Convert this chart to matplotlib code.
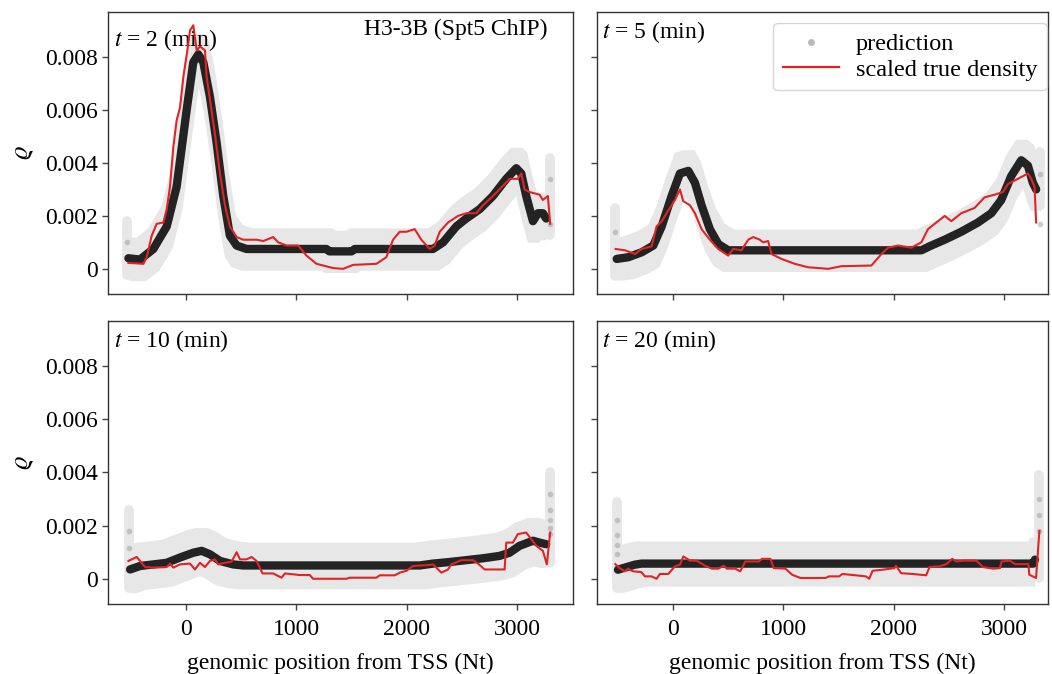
import matplotlib
matplotlib.use("Agg")
import matplotlib.pyplot as plt
import numpy as np
from matplotlib.lines import Line2D
from matplotlib.ticker import FuncFormatter

plt.rcParams["font.family"] = ["Liberation Serif", "DejaVu Serif"]
plt.rcParams["mathtext.fontset"] = "stix"

# ---- data (x in Nt from TSS, y = density) ----
TIMES = [2, 5, 10, 20]

PRED_X_T2 = [-522, -417, -296, -175, -85, 6, 66, 112, 157, 217, 278, 338, 398, 459, 549,
             1273, 1300, 1500, 1530, 2239, 2330, 2450, 2540, 2661, 2782, 2903, 2994, 3039,
             3084, 3145, 3190, 3235, 3265]
PRED_Y_T2 = [0.0004, 0.00035, 0.00075, 0.0016, 0.0031, 0.006, 0.0078, 0.0081, 0.0078, 0.0065,
             0.00475, 0.00275, 0.00125, 0.00088, 0.00075, 0.00075, 0.00066, 0.00066, 0.00075,
             0.00075, 0.001, 0.0016, 0.0019, 0.00225, 0.00275, 0.0034, 0.0038, 0.0036,
             0.00275, 0.0018, 0.0021, 0.0021, 0.0019]
TRUE_X_T2 = [-522, -386, -356, -311, -266, -205, -175, -145, -115, -85, -54, -24, 12, 36, 66,
             97, 127, 172, 187, 217, 262, 308, 353, 398, 459, 519, 640, 700, 790, 836, 911,
             1017, 1092, 1183, 1333, 1424, 1515, 1726, 1816, 1877, 1937, 1998, 2073, 2133,
             2209, 2254, 2300, 2375, 2466, 2541, 2631, 2692, 2782, 2842, 2933, 3008, 3039,
             3069, 3114, 3205, 3235, 3280, 3301]
TRUE_Y_T2 = [0.000225, 0.00019, 0.00044, 0.00125, 0.0017, 0.00175, 0.00225, 0.0031, 0.0046,
             0.0056, 0.0061, 0.00725, 0.00825, 0.009, 0.0092, 0.00825, 0.0084, 0.00825, 0.00725,
             0.0064, 0.0051, 0.0036, 0.0024, 0.0016, 0.0012, 0.0011, 0.0011, 0.00105, 0.0012,
             0.001, 0.00088, 0.00088, 0.0005, 0.00019, 0.00003, 0.0, 0.00015, 0.00019, 0.00044,
             0.0011, 0.0014, 0.0014, 0.0015, 0.0011, 0.00075, 0.00088, 0.0014, 0.00175, 0.002,
             0.0021, 0.0021, 0.0024, 0.00275, 0.003, 0.0034, 0.0034, 0.0036, 0.003, 0.0029,
             0.0028, 0.0026, 0.00275, 0.0017]

PRED_X_T5 = [-506, -400, -280, -175, -99, -9, 66, 142, 202, 262, 337, 413, 503, 2250, 2340,
             2461, 2611, 2762, 2883, 2973, 3063, 3154, 3214, 3259, 3289]
PRED_Y_T5 = [0.000375, 0.00044, 0.000625, 0.00088, 0.0016, 0.00275, 0.0036, 0.0037, 0.00325,
             0.0024, 0.0015, 0.00094, 0.0007, 0.0007, 0.00088, 0.0011, 0.0014, 0.00175, 0.0021,
             0.0026, 0.0035, 0.0041, 0.0039, 0.00325, 0.003]
TRUE_X_T5 = [-515, -431, -340, -280, -190, -145, -99, -54, 21, 66, 96, 157, 202, 262, 337, 413,
             503, 548, 623, 684, 729, 789, 819, 864, 895, 985, 1105, 1226, 1407, 1527, 1798,
             1889, 1949, 2039, 2160, 2250, 2310, 2401, 2461, 2521, 2611, 2732, 2822, 2912, 2988,
             3033, 3123, 3214, 3244, 3274, 3289]
TRUE_Y_T5 = [0.00075, 0.0007, 0.00056, 0.00075, 0.00085, 0.0016, 0.0018, 0.0021, 0.0026, 0.003,
             0.00256, 0.0024, 0.0021, 0.0015, 0.0011, 0.00075, 0.0005, 0.00075, 0.0007, 0.0011,
             0.0012, 0.0011, 0.001, 0.00105, 0.00056, 0.000375, 0.00019, 0.00006, 0.0, 0.0001,
             0.000125, 0.00056, 0.0008, 0.00088, 0.0008, 0.001, 0.0015, 0.0018, 0.002, 0.0018,
             0.0021, 0.0023, 0.0027, 0.0028, 0.0029, 0.0032, 0.0034, 0.0036, 0.0034, 0.0031,
             0.00175]

PRED_X_T10 = [-507, -416, -296, -175, -54, 66, 142, 217, 308, 428, 519, 2118, 2239, 2389, 2540,
              2691, 2842, 2933, 3024, 3145, 3205, 3265]
PRED_Y_T10 = [0.00035, 0.00048, 0.00054, 0.0006, 0.0008, 0.00098, 0.00105, 0.00092, 0.00067,
              0.00054, 0.0005, 0.0005, 0.00057, 0.00063, 0.0007, 0.00077, 0.00086, 0.00098,
              0.00124, 0.00143, 0.00136, 0.0013]
TRUE_X_T10 = [-522, -447, -371, -296, -175, -145, -115, -54, 36, 81, 127, 172, 217, 262, 293,
              353, 413, 459, 489, 549, 594, 640, 694, 790, 866, 896, 1032, 1122, 1152, 1454,
              1484, 1726, 1756, 1892, 1937, 1998, 2058, 2209, 2239, 2269, 2314, 2375, 2405,
              2496, 2601, 2647, 2707, 2888, 2903, 2963, 3008, 3084, 3175, 3235, 3271, 3301]
TRUE_Y_T10 = [0.00067, 0.00082, 0.00044, 0.00042, 0.00044, 0.00057, 0.00042, 0.00054, 0.00057,
              0.00035, 0.0006, 0.00044, 0.00067, 0.00073, 0.00054, 0.0006, 0.00064, 0.001,
              0.00073, 0.00073, 0.00082, 0.00067, 0.0002, 0.0002, 0.00004, 0.0002, 0.00014,
              0.00014, 0.0, 0.0, 0.00004, 0.00004, 0.00013, 0.00013, 0.00023, 0.0003, 0.00048,
              0.00052, 0.00054, 0.00042, 0.00023, 0.00035, 0.00054, 0.0007, 0.0007, 0.00057,
              0.00035, 0.00035, 0.00136, 0.00136, 0.00168, 0.00174, 0.00124, 0.00105, 0.00054,
              0.00174]

PRED_X_T20 = [-494, -448, -342, -282, 3263, 3278]
PRED_Y_T20 = [0.00034, 0.0004, 0.00053, 0.00057, 0.00057, 0.00072]
TRUE_X_T20 = [-518, -479, -433, -403, -358, -282, -251, -191, -145, -115, -39, 21, 67, 97, 158,
              218, 294, 355, 415, 461, 491, 567, 612, 658, 779, 809, 885, 915, 1021, 1082, 1157,
              1385, 1415, 1506, 1536, 1657, 1748, 1779, 1809, 1900, 2006, 2021, 2067, 2173, 2294,
              2324, 2415, 2476, 2530, 2567, 2627, 2748, 2809, 2900, 2961, 2976, 3052, 3097, 3218,
              3227, 3288, 3318]
TRUE_Y_T20 = [0.00055, 0.0004, 0.00028, 0.00038, 0.00028, 0.00025, 0.00009, 0.00009, 0.0,
              0.00018, 0.00018, 0.00047, 0.00053, 0.00084, 0.00068, 0.00068, 0.00049, 0.00038,
              0.00038, 0.00049, 0.00038, 0.00038, 0.00028, 0.00065, 0.00065, 0.00075, 0.00075,
              0.0004, 0.00038, 0.00015, 0.00003, 0.00003, 0.00009, 0.00009, 0.00018, 0.00013,
              0.00009, 0.0, 0.0003, 0.00034, 0.0004, 0.00049, 0.00021, 0.00018, 0.00013, 0.00044,
              0.00047, 0.00055, 0.00075, 0.00065, 0.00068, 0.00068, 0.00044, 0.00038, 0.0004,
              0.00065, 0.00068, 0.00055, 0.00055, 0.00015, 0.00003, 0.0018]

# faded prediction points at the two ends of the gene
EDGE_LEFT_Y = [[0.001], [0.0014], [0.0018, 0.00117], [0.0022, 0.00166, 0.00126, 0.00093]]
EDGE_RIGHT_Y = [[0.0034, 0.0017], [0.0036, 0.0017], [0.0032, 0.0026, 0.0022, 0.0019, 0.0017],
                [0.003, 0.0024, 0.0018]]
# top of the uncertainty strip at the ends
EDGE_LEFT_TOP = [0.0018, 0.0023, 0.0026, 0.0029]
EDGE_RIGHT_TOP = [0.0042, 0.0044, 0.004, 0.0039]
BAND_HALF = [0.0008, 0.0008, 0.00088, 0.00085]

PRED_X = [PRED_X_T2, PRED_X_T5, PRED_X_T10, PRED_X_T20]
PRED_Y = [PRED_Y_T2, PRED_Y_T5, PRED_Y_T10, PRED_Y_T20]
TRUE_X = [TRUE_X_T2, TRUE_X_T5, TRUE_X_T10, TRUE_X_T20]
TRUE_Y = [TRUE_Y_T2, TRUE_Y_T5, TRUE_Y_T10, TRUE_Y_T20]

BAND = "#e7e7e7"
RED = "#e02424"


def band_edges(px, py, hw, reach=55):
    # shaded uncertainty envelope: prediction +- hw, widened a little where steep
    gx = np.linspace(px[0], px[-1], 600)
    gy = np.interp(gx, px, py)
    up = np.array([gy[np.abs(gx - x) <= reach].max() for x in gx]) + hw
    lo = np.array([gy[np.abs(gx - x) <= reach].min() for x in gx]) - hw
    return gx, lo, up


fig = plt.figure(figsize=(10.52, 6.74), dpi=100)
W, H = 1052, 674
boxes = [(108, 12, 573, 294), (597, 12, 1048, 294), (108, 321, 573, 604), (597, 321, 1048, 604)]
xlims = [(-707, 3508), (-684, 3396), (-707, 3508), (-684, 3396)]
label_y = [0.945, 0.975, 0.975, 0.975]

for i, t in enumerate(TIMES):
    l, tp, r, b = boxes[i]
    ax = fig.add_axes([l / W, 1 - b / H, (r - l) / W, (b - tp) / H])
    px = np.array(PRED_X[i], dtype=float)
    py = np.array(PRED_Y[i])
    hw = BAND_HALF[i]
    gx, lo, up = band_edges(px, py, hw)
    ax.fill_between(gx, lo, up, color=BAND, lw=0, zorder=1)
    x0, x1 = px[0] - 12, px[-1] + 35
    ax.plot([x0, x0], [py[0] - hw * 0.8, EDGE_LEFT_TOP[i]], color=BAND, lw=7,
            solid_capstyle="round", zorder=1)
    ax.plot([x1, x1], [py[-1] - hw * 0.8, EDGE_RIGHT_TOP[i]], color=BAND, lw=7,
            solid_capstyle="round", zorder=1)
    ax.plot([x0] * len(EDGE_LEFT_Y[i]), EDGE_LEFT_Y[i], "o", color="#9a9a9a", ms=4,
            alpha=0.5, mew=0, zorder=2)
    ax.plot([x1] * len(EDGE_RIGHT_Y[i]), EDGE_RIGHT_Y[i], "o", color="#9a9a9a", ms=4,
            alpha=0.5, mew=0, zorder=2)
    ax.plot(px, py, color="#000000", lw=6, alpha=0.85, solid_capstyle="round",
            solid_joinstyle="round", zorder=3)
    ax.plot(TRUE_X[i], TRUE_Y[i], color=RED, lw=1.5, zorder=4)

    ax.set_xlim(*xlims[i])
    ax.set_ylim(-0.00095, 0.0097)
    ax.set_xticks([0, 1000, 2000, 3000])
    ax.set_yticks([0, 0.002, 0.004, 0.006, 0.008])
    ax.yaxis.set_major_formatter(FuncFormatter(lambda v, p: "0" if abs(v) < 1e-12 else f"{v:.3f}"))
    ax.tick_params(direction="out", length=4, width=1, color="#444444", labelsize=17)
    ax.tick_params(axis="x", pad=7)
    for s in ax.spines.values():
        s.set_color("#333333")
        s.set_linewidth(1.0)
    if i < 2:
        ax.tick_params(labelbottom=False)
    else:
        ax.set_xlabel("genomic position from TSS (Nt)", fontsize=17, labelpad=9)
    if i % 2 == 1:
        ax.tick_params(labelleft=False)
    else:
        ax.set_ylabel(r"$\varrho$", fontsize=19, labelpad=6)
    ax.text(0.012, label_y[i], rf"$t$ = {t} (min)", transform=ax.transAxes,
            ha="left", va="top", fontsize=17)

    if i == 0:
        ax.text(0.945, 0.975, "H3-3B (Spt5 ChIP)", transform=ax.transAxes,
                ha="right", va="top", fontsize=17)
    if i == 1:
        handles = [
            Line2D([], [], marker="o", ls="none", color="#bbbbbb", ms=5, mew=0),
            Line2D([], [], color=RED, lw=1.6),
        ]
        ax.legend(handles, ["prediction", "scaled true density"], loc="upper right",
                  bbox_to_anchor=(0.998, 0.96), borderaxespad=0, fontsize=17.5,
                  frameon=True, edgecolor="#cccccc", handlelength=2.3, handletextpad=0.7,
                  borderpad=0.4, labelspacing=0.15)

fig.savefig("out.png", dpi=100)
